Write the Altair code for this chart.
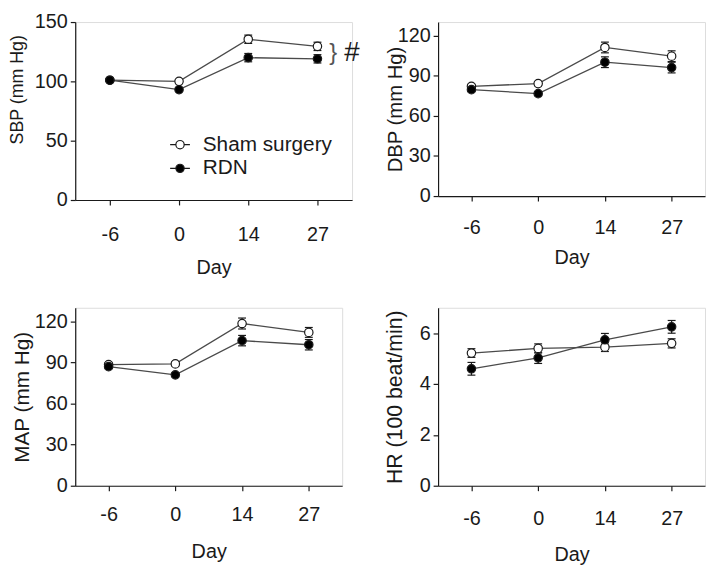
import altair as alt
import pandas as pd

# ---------------- data ----------------
days = ["-6", "0", "14", "27"]
groups = ["Sham surgery", "RDN"]

sbp_sham = [101, 100, 135.5, 129.5]
sbp_sham_err = [1.0, 1.0, 3.5, 3.5]
sbp_rdn = [101, 93, 120, 119]
sbp_rdn_err = [1.0, 1.0, 3.5, 3.5]

dbp_sham = [82, 84, 111, 104.5]
dbp_sham_err = [1.5, 1.5, 4.0, 4.0]
dbp_rdn = [79.5, 76.5, 100, 96]
dbp_rdn_err = [1.5, 1.5, 4.0, 4.0]

map_sham = [88.5, 89, 118.5, 112]
map_sham_err = [1.5, 1.5, 4.0, 3.6]
map_rdn = [87, 81, 106, 103]
map_rdn_err = [1.5, 1.5, 3.8, 3.8]

hr_sham = [5.22, 5.40, 5.45, 5.60]
hr_sham_err = [0.17, 0.18, 0.17, 0.18]
hr_rdn = [4.60, 5.03, 5.74, 6.25]
hr_rdn_err = [0.25, 0.22, 0.25, 0.25]

sbp_ticks = [0, 50, 100, 150]
bp_ticks = [0, 30, 60, 90, 120]
hr_ticks = [0, 2, 4, 6]

annot_day = ["27", "27"]
annot_value = [124, 124]
annot_text = ["}", "#"]

FONT = "Liberation Sans"
INK = "#1a1a1a"
LINE = "#4a4a4a"

LEGEND_SYMBOL = ("M-1,0L-0.42,0M0.42,0L1,0"
                 "M-0.42,0A0.42,0.42,0,1,0,0.42,0A0.42,0.42,0,1,0,-0.42,0Z")


def make_df(sham, sham_err, rdn, rdn_err):
    rows = []
    for g, vals, errs in ((groups[0], sham, sham_err), (groups[1], rdn, rdn_err)):
        for d, v, e in zip(days, vals, errs):
            rows.append({"Day": d, "Group": g, "value": v, "lo": v - e, "hi": v + e})
    return pd.DataFrame(rows)


def panel(df, ytitle, ymax, yticks, w, h, tsize, tx, ty=None,
          xlabpad=16, xtitlepad=14, legend=None, annotate=False):
    xenc = alt.X(
        "Day:N", sort=days, scale=alt.Scale(type="point", padding=0.5),
        axis=alt.Axis(title="Day", labelAngle=0, labelFontSize=20, labelPadding=xlabpad,
                      tickSize=5, titleFontSize=20, titlePadding=xtitlepad,
                      titleFontWeight="normal", domainColor=INK, tickColor=INK,
                      labelColor=INK, titleColor=INK, labelFont=FONT, titleFont=FONT,
                      domainWidth=1.2, tickWidth=1.2))
    ykw = dict(title=ytitle, values=yticks, grid=False, tickSize=5, labelPadding=3,
               labelFontSize=20, titleFontSize=tsize, titleX=tx, titleFontWeight="normal",
               domainColor=INK, tickColor=INK, labelColor=INK, titleColor=INK,
               labelFont=FONT, titleFont=FONT, domainWidth=1.2, tickWidth=1.2)
    if ty is not None:
        ykw["titleY"] = ty
    yscale = alt.Scale(domain=[0, ymax], nice=False, zero=True)

    def yenc(field):
        return alt.Y(field + ":Q", scale=yscale, axis=alt.Axis(**ykw))

    base = alt.Chart(df)
    lines = base.mark_line(color=LINE, strokeWidth=1.3).encode(
        x=xenc, y=yenc("value"), detail="Group:N")
    rules = base.mark_rule(color=INK, strokeWidth=1.2).encode(
        x=xenc, y=yenc("lo"), y2="hi:Q")
    cap_lo = base.mark_tick(orient="horizontal", size=8, thickness=1.2, color=INK,
                            opacity=1).encode(x=xenc, y=yenc("lo"))
    cap_hi = base.mark_tick(orient="horizontal", size=8, thickness=1.2, color=INK,
                            opacity=1).encode(x=xenc, y=yenc("hi"))
    points = base.mark_point(filled=True, shape="circle", size=72, stroke=INK,
                             strokeWidth=1.2, opacity=1).encode(
        x=xenc, y=yenc("value"),
        fill=alt.Fill("Group:N", scale=alt.Scale(domain=groups, range=["white", "black"]),
                      legend=legend))
    layers = [lines, rules, cap_lo, cap_hi, points]
    if annotate:
        adf = pd.DataFrame({"Day": annot_day, "value": annot_value, "t": annot_text})
        brace = alt.Chart(adf.iloc[[0]]).mark_text(
            dx=16, fontSize=24, color="#555555", font=FONT, baseline="middle").encode(
            x=xenc, y=yenc("value"), text="t:N")
        hsh = alt.Chart(adf.iloc[[1]]).mark_text(
            dx=35, fontSize=28, color=INK, font=FONT, baseline="middle").encode(
            x=xenc, y=yenc("value"), text="t:N")
        layers += [brace, hsh]
    return alt.layer(*layers).properties(width=w, height=h)


legend = alt.Legend(orient="none", legendX=95, legendY=113, title=None,
                    symbolType=LEGEND_SYMBOL, symbolSize=400, symbolStrokeColor=INK,
                    symbolStrokeWidth=1.2, labelFontSize=21, labelFont=FONT,
                    labelColor=INK, labelOffset=12, rowPadding=3, padding=0)

p1 = panel(make_df(sbp_sham, sbp_sham_err, sbp_rdn, sbp_rdn_err), "SBP (mm Hg)", 150,
           sbp_ticks, 280, 180, 18, -49, ty=68, xlabpad=20, xtitlepad=13,
           legend=legend, annotate=True)
p2 = panel(make_df(dbp_sham, dbp_sham_err, dbp_rdn, dbp_rdn_err), "DBP (mm Hg)", 130,
           bp_ticks, 270, 176, 20.5, -33, xlabpad=16.5, xtitlepad=11)
p3 = panel(make_df(map_sham, map_sham_err, map_rdn, map_rdn_err), "MAP (mm Hg)", 130,
           bp_ticks, 270, 180, 21, -43, xlabpad=14.5, xtitlepad=17)
p4 = panel(make_df(hr_sham, hr_sham_err, hr_rdn, hr_rdn_err), "HR (100 beat/min)", 7,
           hr_ticks, 270, 180, 21.5, -32, xlabpad=18.5, xtitlepad=16)

chart = alt.concat(
    p1, p2, p3, p4, columns=2, spacing={"row": 109, "column": 87}, bounds="flush",
    padding=0,
).resolve_scale(fill="independent").resolve_legend(fill="independent").configure_view(
    stroke=None).configure(background="white")

chart.save("out.html", embed_options={"renderer": "svg", "actions": False})
